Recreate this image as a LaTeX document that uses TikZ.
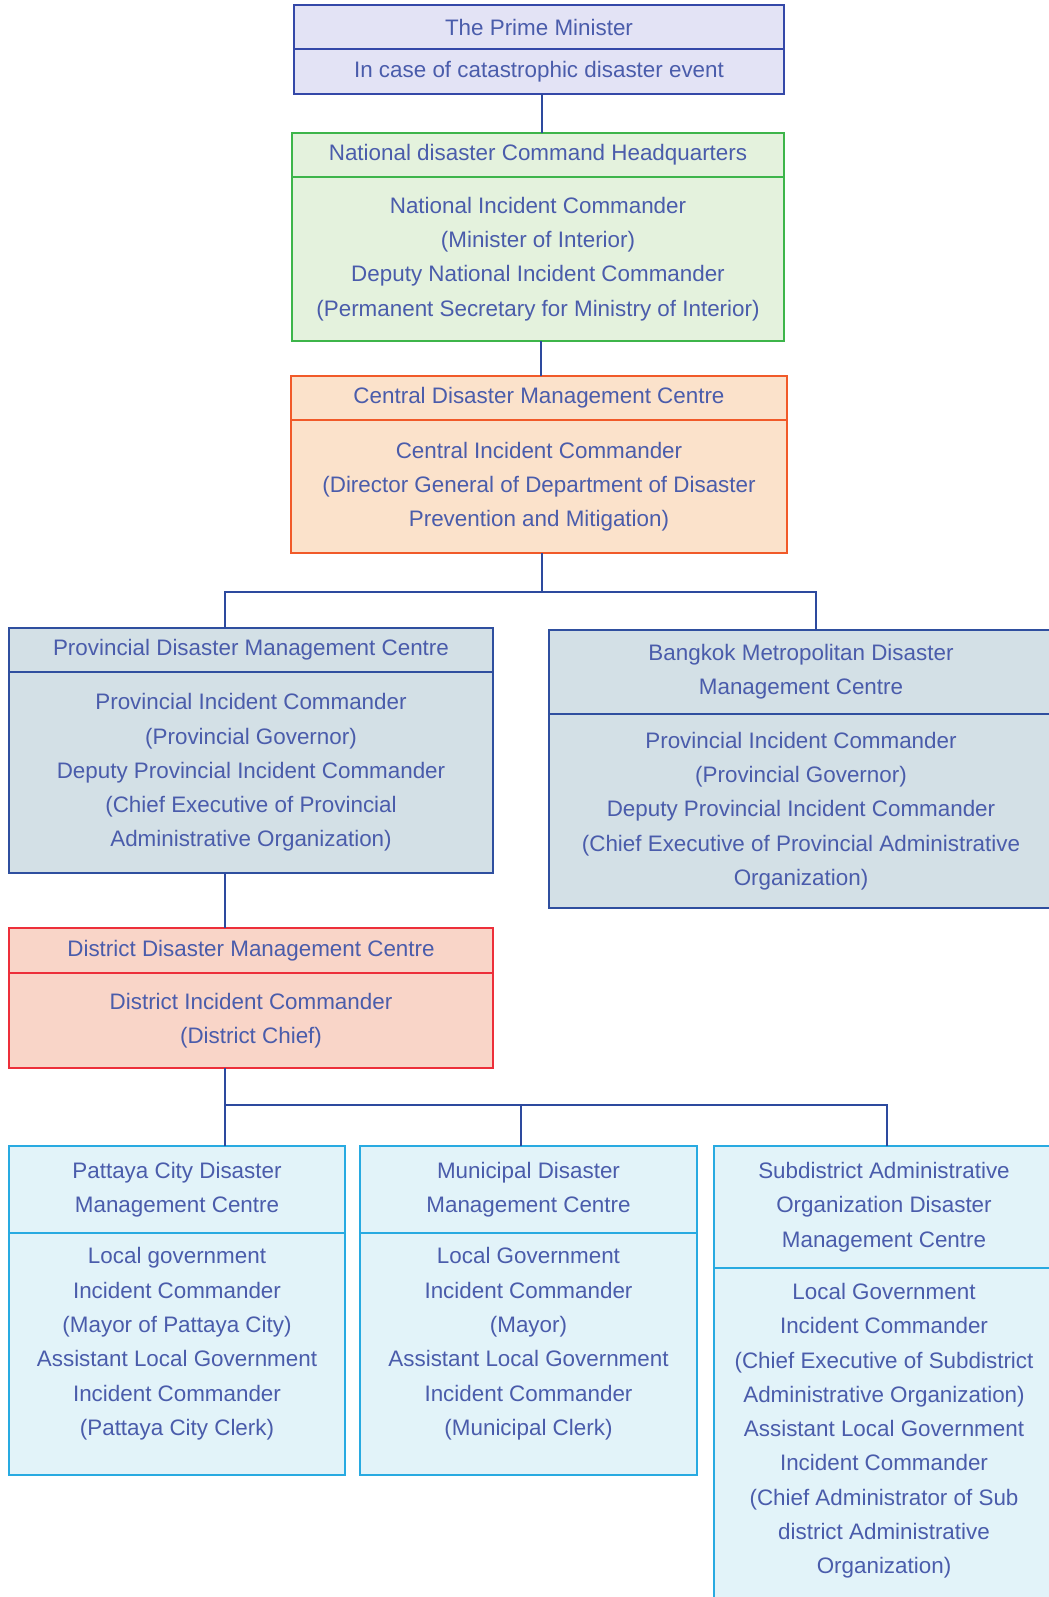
\documentclass[tikz,border=0pt]{standalone}
\usepackage{fontspec}
\setmainfont{Liberation Sans}
\usetikzlibrary{positioning}
\definecolor{ink}{RGB}{74,92,171}
\definecolor{wire}{RGB}{45,74,158}
\definecolor{pmline}{RGB}{52,72,168}
\definecolor{pmfill}{RGB}{227,227,245}
\definecolor{ndline}{RGB}{61,181,74}
\definecolor{ndfill}{RGB}{228,242,221}
\definecolor{cdline}{RGB}{241,90,41}
\definecolor{cdfill}{RGB}{251,226,203}
\definecolor{pdline}{RGB}{47,79,159}
\definecolor{pdfill}{RGB}{211,224,230}
\definecolor{ddline}{RGB}{237,47,58}
\definecolor{ddfill}{RGB}{249,213,200}
\definecolor{lgline}{RGB}{40,170,225}
\definecolor{lgfill}{RGB}{226,243,249}
\newcommand\boxfont{\fontsize{11.2pt}{17.15pt}\selectfont}
\newcommand\lowpad{\rule[-12.5pt]{0pt}{0pt}}
\begin{document}
\begin{tikzpicture}[x=0.5pt, y=-0.5pt,
   every node/.style={rectangle, line width=1.25pt, inner sep=0pt, outer sep=0pt,
                      align=center, font=\boxfont, text=ink},
   pm/.style={draw=pmline, fill=pmfill},
   nd/.style={draw=ndline, fill=ndfill},
   cd/.style={draw=cdline, fill=cdfill},
   pd/.style={draw=pdline, fill=pdfill},
   dd/.style={draw=ddline, fill=ddfill},
   lg/.style={draw=lgline, fill=lgfill},
   link/.style={draw=wire, line width=1.25pt},
   node distance=0pt]

\useasboundingbox (0,0) rectangle (1049,1597);
\clip (0,0) rectangle (1049,1597);

\node[pm, anchor=north west, minimum width=245pt, minimum height=22pt] (pmh) at (294,5) {The Prime Minister};
\node[pm, below=of pmh, minimum width=245pt, minimum height=22.5pt] (pmb) {In case of catastrophic disaster event};

\node[nd, anchor=north west, minimum width=246pt, minimum height=22pt] (ndh) at (292,133) {National disaster Command Headquarters};
\node[nd, below=of ndh, minimum width=246pt, minimum height=82pt] (ndb) {National Incident Commander\\(Minister of Interior)\\Deputy National Incident Commander\\(Permanent Secretary for Ministry of Interior)};

\node[cd, anchor=north west, minimum width=248pt, minimum height=22pt] (cdh) at (291,376) {Central Disaster Management Centre};
\node[cd, below=of cdh, minimum width=248pt, minimum height=66.5pt] (cdb) {Central Incident Commander\\(Director General of Department of Disaster\\Prevention and Mitigation)};

\node[pd, anchor=north west, minimum width=242pt, minimum height=22pt] (pdh) at (9,628) {Provincial Disaster Management Centre};
\node[pd, below=of pdh, minimum width=242pt, minimum height=100.5pt] (pdb) {Provincial Incident Commander\\(Provincial Governor)\\Deputy Provincial Incident Commander\\(Chief Executive of Provincial\\Administrative Organization)};

\node[pd, anchor=north west, minimum width=252pt, minimum height=42pt] (bkh) at (549,630) {Bangkok Metropolitan Disaster\\Management Centre};
\node[pd, below=of bkh, minimum width=252pt, minimum height=97pt] (bkb) {Provincial Incident Commander\\(Provincial Governor)\\Deputy Provincial Incident Commander\\(Chief Executive of Provincial Administrative\\Organization)};

\node[dd, anchor=north west, minimum width=242pt, minimum height=22.5pt] (ddh) at (9,928) {District Disaster Management Centre};
\node[dd, below=of ddh, minimum width=242pt, minimum height=47.5pt] (ddb) {District Incident Commander\\(District Chief)};

\node[lg, anchor=north west, minimum width=168pt, minimum height=43.5pt] (pth) at (9,1146) {Pattaya City Disaster\\Management Centre};
\node[lg, below=of pth, minimum width=168pt, minimum height=121pt] (ptb) {Local government\\Incident Commander\\(Mayor of Pattaya City)\\Assistant Local Government\\Incident Commander\\(Pattaya City Clerk)\lowpad};

\node[lg, anchor=north west, minimum width=168.5pt, minimum height=43.5pt] (muh) at (360,1146) {Municipal Disaster\\Management Centre};
\node[lg, below=of muh, minimum width=168.5pt, minimum height=121pt] (mub) {Local Government\\Incident Commander\\(Mayor)\\Assistant Local Government\\Incident Commander\\(Municipal Clerk)\lowpad};

\node[lg, anchor=north west, minimum width=170pt, minimum height=61pt] (sdh) at (714,1146) {Subdistrict Administrative\\Organization Disaster\\Management Centre};
\node[lg, below=of sdh, minimum width=170pt, minimum height=173pt] (sdb) {Local Government\\Incident Commander\\(Chief Executive of Subdistrict\\Administrative Organization)\\Assistant Local Government\\Incident Commander\\(Chief Administrator of Sub\\district Administrative\\Organization)\lowpad};

\coordinate (pmout) at ([xshift=1.5pt]pmb.south);
\coordinate (ndout) at ([xshift=1.5pt]ndb.south);
\coordinate (cdout) at ([xshift=1.5pt]cdb.south);
\coordinate (pdrop) at ([xshift=108pt]pdh.north west);
\coordinate (bdrop) at ([xshift=133.5pt]bkh.north west);
\coordinate (ptdrop) at ([xshift=108pt]pth.north west);
\coordinate (mudrop) at ([xshift=80.5pt]muh.north west);
\coordinate (sddrop) at ([xshift=86.5pt]sdh.north west);

\draw[link] (pmout) -- (pmout |- ndh.north);
\draw[link] (ndout) -- (ndout |- cdh.north);
\draw[link] (cdout) -- ++(0,39) coordinate (cfork);
\draw[link] (cfork) -| (pdrop);
\draw[link] (cfork) -| (bdrop);
\draw[link] (pdb.south -| pdrop) -- (ddh.north -| pdrop);
\draw[link] (ddb.south -| pdrop) -- ++(0,37) coordinate (dfork);
\draw[link] (dfork) -- (ptdrop);
\draw[link] (dfork) -| (mudrop);
\draw[link] (dfork) -| (sddrop);

\end{tikzpicture}
\end{document}
